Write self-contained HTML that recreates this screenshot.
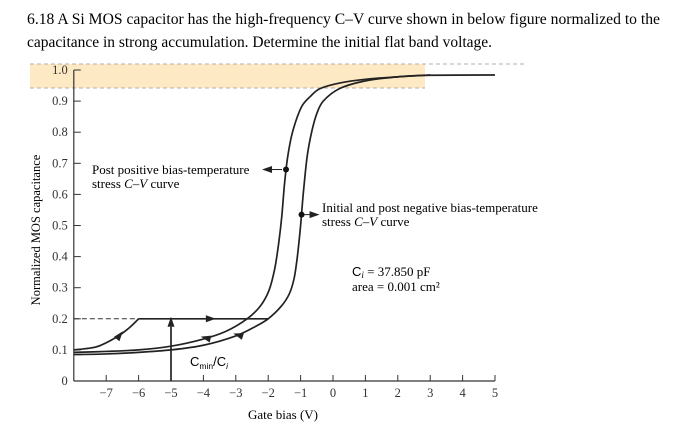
<!DOCTYPE html>
<html><head><meta charset="utf-8"><style>body{margin:0;background:#fff}svg{display:block}</style></head>
<body>
<svg id="chart" width="700" height="446" xmlns="http://www.w3.org/2000/svg" font-family="Liberation Serif, serif">
<text x="27" y="24" font-size="15.5" textLength="633" lengthAdjust="spacingAndGlyphs">6.18 A Si MOS capacitor has the high-frequency C–V curve shown in below figure normalized to the</text>
<text x="27" y="47" font-size="15.5" textLength="465" lengthAdjust="spacingAndGlyphs">capacitance in strong accumulation. Determine the initial flat band voltage.</text>
<rect x="30" y="64" width="395" height="24" fill="#fde9c4"/>
<line x1="30" y1="64" x2="525" y2="64" stroke="#999" stroke-dasharray="4,3" stroke-width="0.8"/>
<line x1="30" y1="88" x2="425" y2="88" stroke="#999" stroke-dasharray="4,3" stroke-width="0.8"/>
<g id="plot"></g>
<text transform="translate(40,230) rotate(-90)" text-anchor="middle" font-size="12.5">Normalized MOS capacitance</text>
<text x="283" y="419" text-anchor="middle" font-size="13">Gate bias (V)</text>
<text x="92" y="174" font-size="13">Post positive bias-temperature</text>
<text x="92" y="188" font-size="13">stress <tspan font-style="italic">C–V</tspan> curve</text>
<text x="322" y="212" font-size="13">Initial and post negative bias-temperature</text>
<text x="322" y="226" font-size="13">stress <tspan font-style="italic">C–V</tspan> curve</text>
<text x="352" y="276" font-size="13"><tspan font-family="Liberation Sans, sans-serif">C</tspan><tspan font-style="italic" font-size="9" dy="2">i</tspan><tspan dy="-2"> = 37.850 pF</tspan></text>
<text x="352" y="291" font-size="13">area = 0.001 cm²</text>
<text x="190" y="366" font-size="13" font-family="Liberation Sans, sans-serif">C<tspan font-size="8.5" dy="3">min</tspan><tspan dy="-3">/C</tspan><tspan font-size="8.5" font-style="italic" dy="3">i</tspan></text>
</svg>
<script>
const xTicks=[-7,-6,-5,-4,-3,-2,-1,0,1,2,3,4,5];
const yTicks=[0,0.1,0.2,0.3,0.4,0.5,0.6,0.7,0.8,0.9,1.0];
const yTickLabels=["0","0.1","0.2","0.3","0.4","0.5","0.6","0.7","0.8","0.9","1.0"];
const postV=[-8,-7,-6,-5,-4,-3.3,-2.65,-2.25,-1.98,-1.8,-1.68,-1.58,-1.5,-1.4,-1.25,-0.98,-0.7,-0.4,0.2,1,2,3,5];
const postC=[0.092,0.095,0.10,0.112,0.135,0.16,0.2,0.24,0.29,0.36,0.44,0.53,0.63,0.72,0.8,0.88,0.915,0.94,0.958,0.97,0.978,0.983,0.984];
const initV=[-8,-7,-6,-5,-4,-3,-2.4,-2,-1.6,-1.35,-1.2,-1.1,-1.0,-0.92,-0.8,-0.66,-0.5,-0.3,0.2,1,2,3];
const initC=[0.085,0.087,0.092,0.10,0.115,0.145,0.175,0.2,0.24,0.28,0.33,0.4,0.5,0.6,0.72,0.8,0.86,0.9,0.94,0.965,0.978,0.984];
const deepV=[-8,-7.3,-6.7,-6.3,-6];
const deepC=[0.1,0.11,0.14,0.17,0.2];
const markerV=[-1.45,-0.97];
const markerC=[0.68,0.535];
const X=v=>333+v*32.4, Y=c=>381-c*311;
const g=document.getElementById('plot');const NS='http://www.w3.org/2000/svg';
function mk(t,a){const e=document.createElementNS(NS,t);for(const k in a)e.setAttribute(k,a[k]);g.appendChild(e);return e;}
function smooth(vs,cs){const p=vs.map((v,i)=>[X(v),Y(cs[i])]);let d='M'+p[0];for(let i=0;i<p.length-1;i++){const a=p[i-1]||p[i],b=p[i],c=p[i+1],e=p[i+2]||c;const k=0.15;d+=' C'+(b[0]+(c[0]-a[0])*k)+','+(b[1]+(c[1]-a[1])*k)+' '+(c[0]-(e[0]-b[0])*k)+','+(c[1]-(e[1]-b[1])*k)+' '+c[0]+','+c[1];}return d;}
let e;
e=mk('line',{x1:X(-8),y1:Y(0),x2:X(5),y2:Y(0),stroke:'#333','stroke-width':1.2});


e=mk('line',{x1:X(-8),y1:Y(0),x2:X(-8),y2:Y(1),stroke:'#333','stroke-width':1.2});


xTicks.forEach(v=>{let t=mk('line',{x1:X(v),y1:Y(0),x2:X(v),y2:Y(0)-6,stroke:'#333'});


let l=mk('text',{x:X(v),y:Y(0)+16,'text-anchor':'middle','font-size':12.5,fill:'#333'});l.textContent=v<0?'−'+(-v):String(v);

});
yTicks.forEach((c,i)=>{if(i>0){let t=mk('line',{x1:X(-8),y1:Y(c),x2:X(-8)+7,y2:Y(c),stroke:'#333'});

}
let l=mk('text',{x:X(-8)-6,y:Y(c)+4,'text-anchor':'end','font-size':12.5,fill:'#333'});l.textContent=yTickLabels[i];

});
e=mk('path',{d:smooth(postV,postC),fill:'none',stroke:'#222','stroke-width':1.7});


e=mk('path',{d:smooth(initV,initC),fill:'none',stroke:'#222','stroke-width':1.7});


e=mk('path',{d:smooth(deepV,deepC),fill:'none',stroke:'#222','stroke-width':1.7});


e=mk('line',{x1:X(-6),y1:Y(0.2),x2:X(-2),y2:Y(0.2),stroke:'#222','stroke-width':1.7});


e=mk('line',{x1:X(-8),y1:Y(0.2),x2:X(-6),y2:Y(0.2),stroke:'#333','stroke-dasharray':'5,3'});


e=mk('line',{x1:X(-5),y1:Y(0),x2:X(-5),y2:Y(0.2)+8,stroke:'#222','stroke-width':1.7});


function tri(x,y,ang){const p=[[6,0],[-4,-3.5],[-4,3.5]].map(([a,b])=>[x+a*Math.cos(ang)-b*Math.sin(ang),y+a*Math.sin(ang)+b*Math.cos(ang)].join(','));let t=mk('polygon',{points:p.join(' '),fill:'#222'});

}
tri(X(-5),Y(0.2)+4,-Math.PI/2);
tri(X(-3.8),Y(0.2),0);
tri(X(-3.9),Y(0.138),Math.PI+0.25);
tri(X(-2.9),Y(0.147),Math.PI+0.3);
tri(X(-6.6),Y(0.145),-0.9);
markerV.forEach((v,i)=>{let d=mk('circle',{cx:X(v),cy:Y(markerC[i]),r:3,fill:'#111'});

});
e=mk('line',{x1:X(markerV[0])-4,y1:Y(markerC[0]),x2:X(markerV[0])-16,y2:Y(markerC[0]),stroke:'#222'});


tri(X(markerV[0])-18,Y(markerC[0]),Math.PI);
e=mk('line',{x1:X(markerV[1])+3,y1:Y(markerC[1]),x2:X(markerV[1])+10,y2:Y(markerC[1]),stroke:'#222'});


tri(X(markerV[1])+12,Y(markerC[1]),0);
</script>
</body></html>
